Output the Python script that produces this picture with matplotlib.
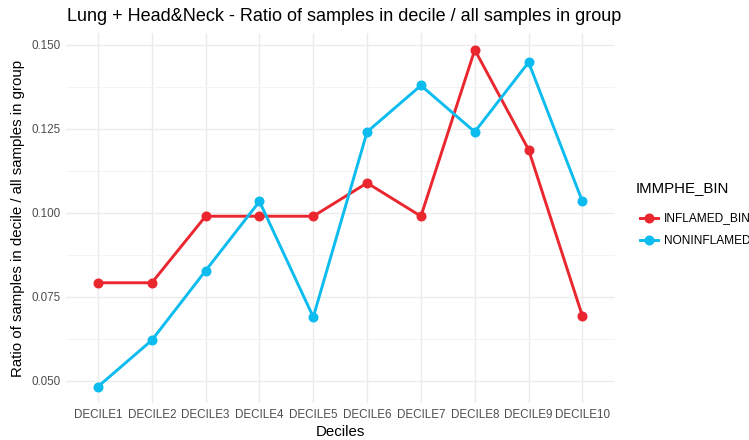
import matplotlib
matplotlib.use("Agg")
import matplotlib.pyplot as plt
from matplotlib.lines import Line2D
from matplotlib.ticker import MultipleLocator

plt.rcParams['font.family'] = ['Liberation Sans', 'DejaVu Sans']

deciles = ["DECILE1", "DECILE2", "DECILE3", "DECILE4", "DECILE5",
           "DECILE6", "DECILE7", "DECILE8", "DECILE9", "DECILE10"]
inflamed = [0.0792, 0.0792, 0.0990, 0.0990, 0.0990, 0.1089, 0.0990, 0.1485, 0.1188, 0.0693]
noninflamed = [0.0483, 0.0621, 0.0828, 0.1034, 0.0690, 0.1241, 0.1379, 0.1241, 0.1448, 0.1034]
series_names = ["INFLAMED_BIN", "NONINFLAMED_BIN"]
colors = ["#EA262F", "#0CBCEE"]

fig = plt.figure(figsize=(7.49, 4.40), dpi=100)
ax = fig.add_axes([0.0877, 0.083, 0.733, 0.842])

x = list(range(1, len(deciles) + 1))
for vals, c in zip([inflamed, noninflamed], colors):
    ax.plot(x, vals, color=c, lw=2.1, marker='o', ms=6.2, zorder=3)

ax.set_xlim(0.4, 10.6)
lo, hi = min(inflamed + noninflamed), max(inflamed + noninflamed)
pad = (hi - lo) * 0.05
ax.set_ylim(lo - pad, hi + pad)
ax.set_xticks(x)
ax.set_xticklabels(deciles)
ax.yaxis.set_major_locator(MultipleLocator(0.025))
ax.yaxis.set_minor_locator(MultipleLocator(0.0125))
ax.yaxis.set_major_formatter(matplotlib.ticker.FormatStrFormatter('%.3f'))

ax.grid(which='major', color='#EBEBEB', lw=1.0)
ax.grid(which='minor', axis='y', color='#F3F3F3', lw=0.6)
ax.set_axisbelow(True)
for s in ax.spines.values():
    s.set_visible(False)
ax.tick_params(which='both', length=0, labelsize=8.4, labelcolor='#4D4D4D', pad=4)

ax.set_xlabel("Deciles", fontsize=10.8, color='black', labelpad=3)
ax.set_ylabel("Ratio of samples in decile / all samples in group", fontsize=10.8, color='black', labelpad=4)
ax.set_title("Lung + Head&Neck - Ratio of samples in decile / all samples in group",
             fontsize=13, loc='left', x=0.002, pad=9)

# legend (cut off at the right edge, as in the reference)
fig.text(636 / 749, 1 - 188 / 440, "IMMPHE_BIN", fontsize=10.8, va='center', ha='left')
for i, (name, c) in enumerate(zip(series_names, colors)):
    yy = 1 - (218 + 22 * i) / 440
    fig.add_artist(Line2D([640 / 749, 658 / 749], [yy, yy], color=c, lw=2.1,
                          transform=fig.transFigure))
    fig.add_artist(Line2D([649 / 749], [yy], color=c, marker='o', ms=6.2,
                          transform=fig.transFigure))
    fig.text(664 / 749, yy, name, fontsize=8.6, va='center', ha='left')

fig.savefig("out.png", dpi=100)
